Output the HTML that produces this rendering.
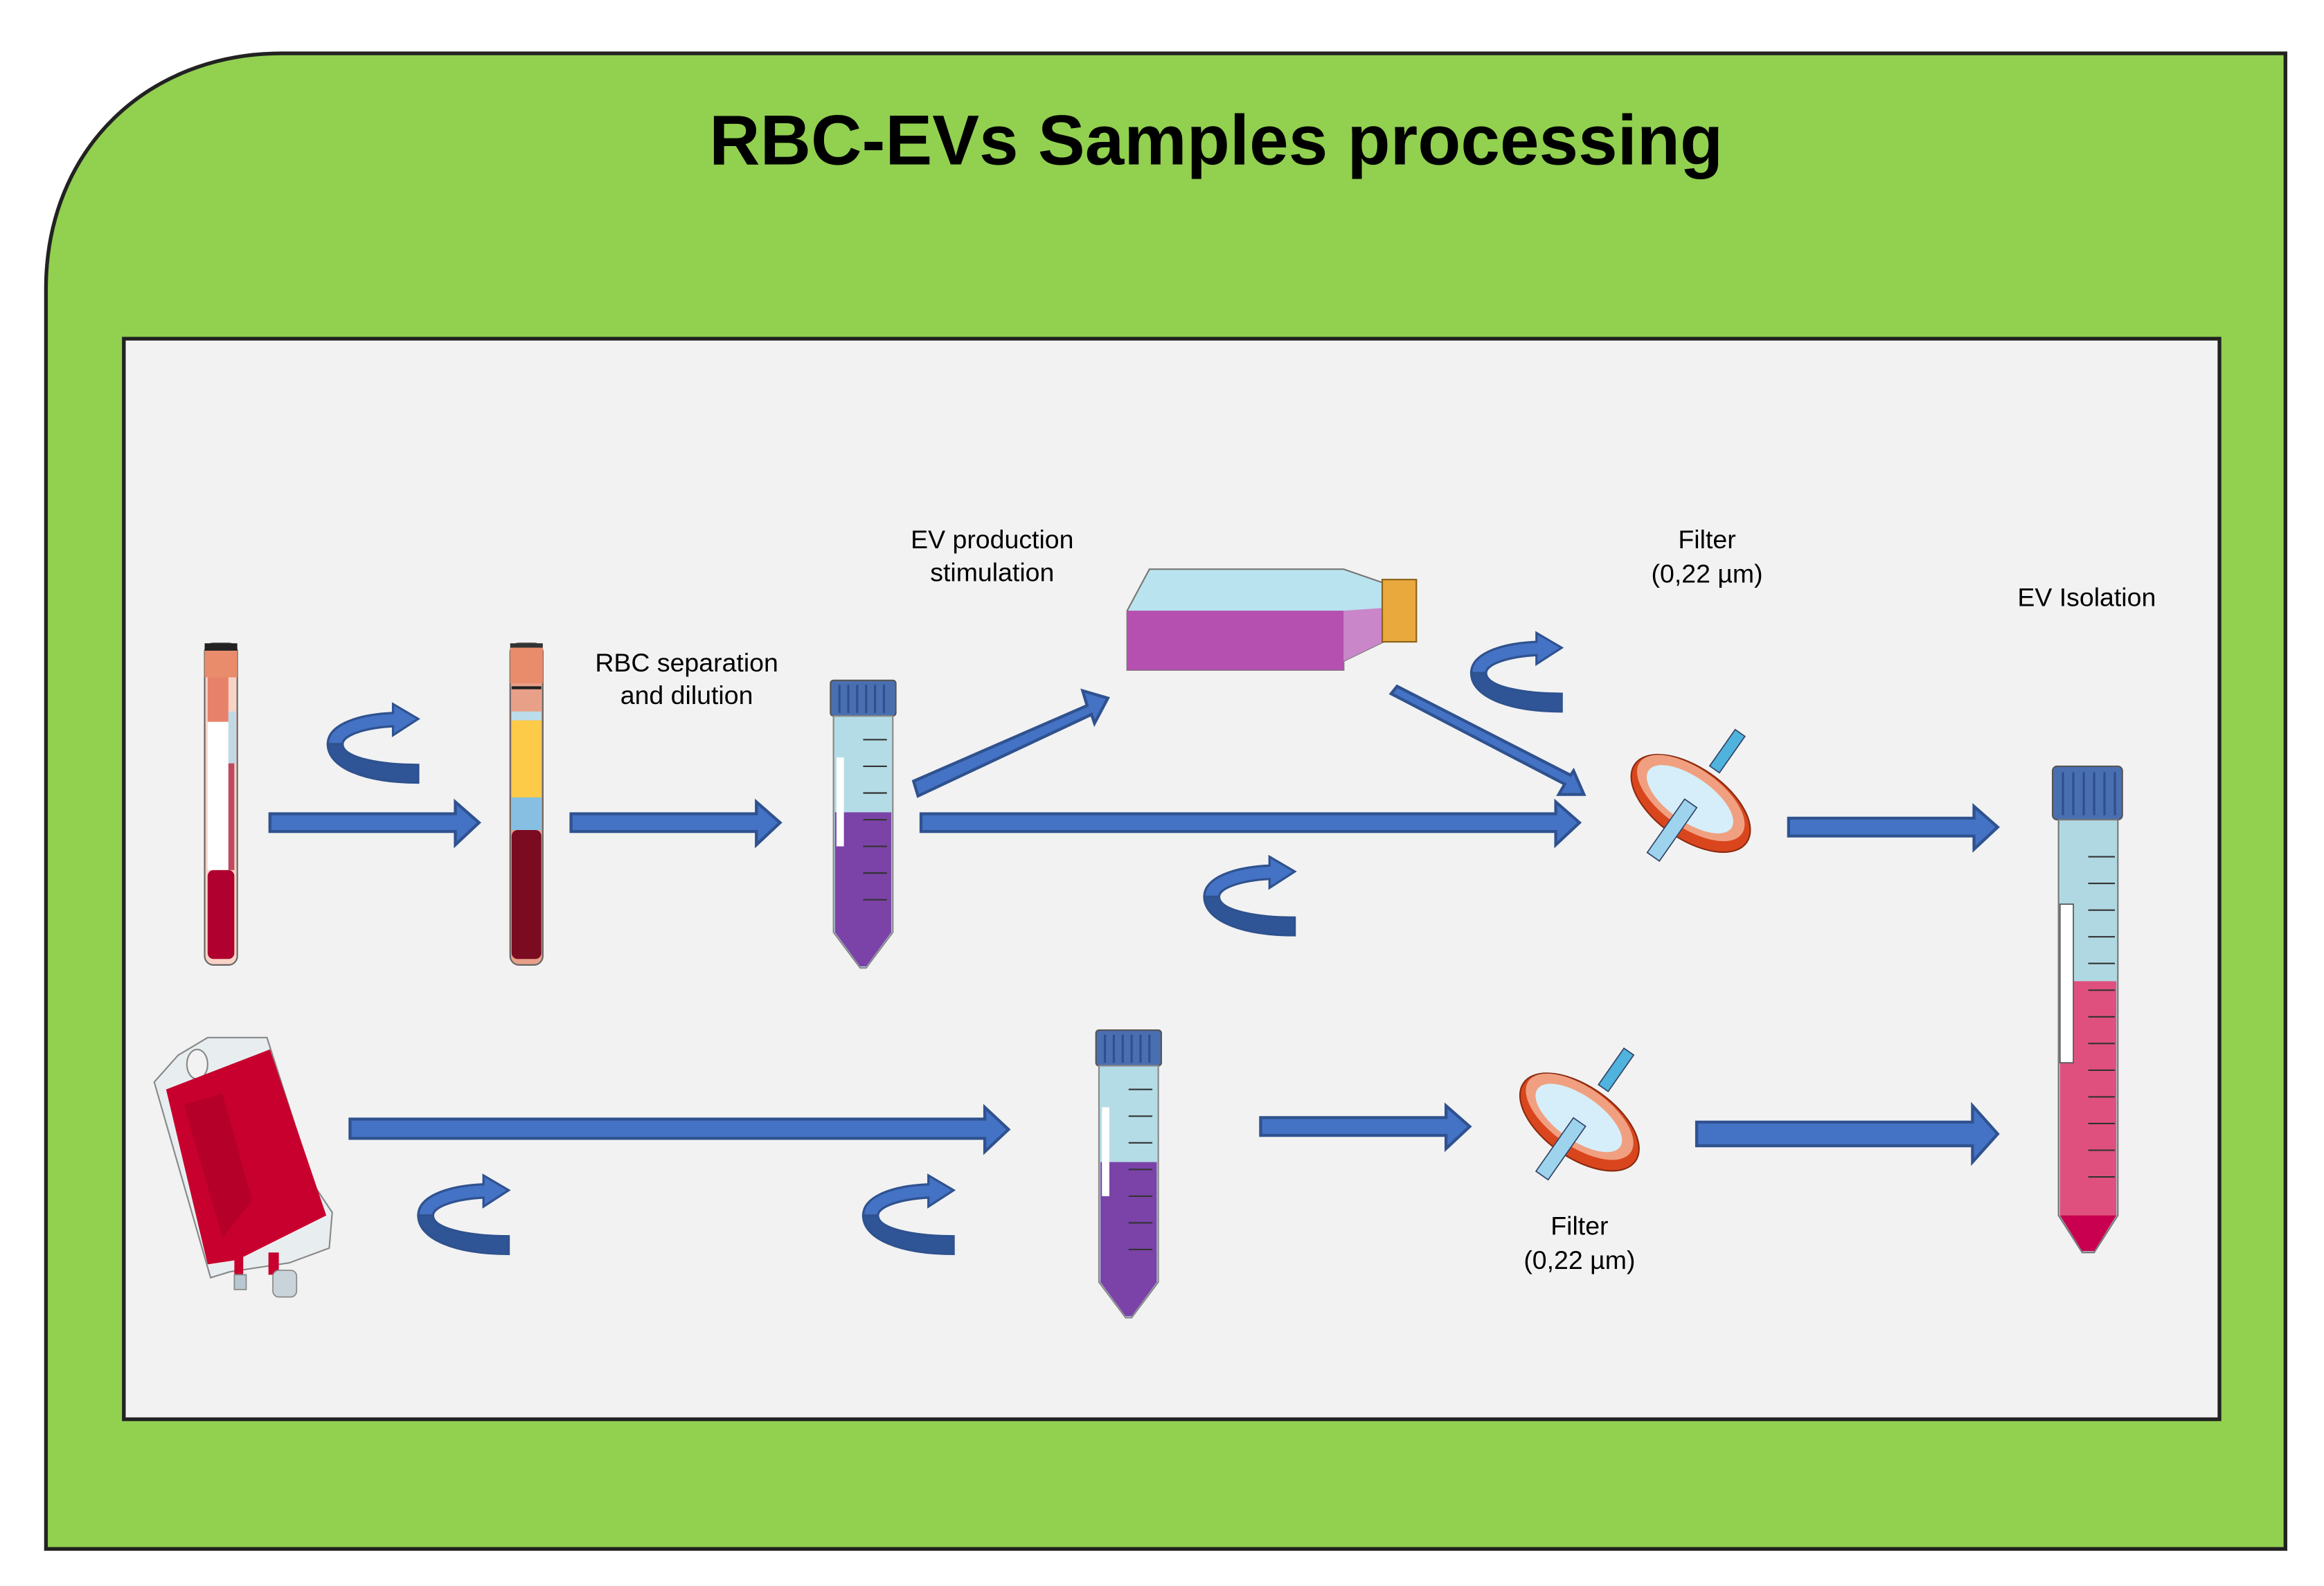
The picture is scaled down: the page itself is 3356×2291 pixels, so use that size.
<!DOCTYPE html>
<html><head><meta charset="utf-8"><style>
html,body{margin:0;padding:0;background:#fff;}
svg{display:block;}
text{font-family:"Liberation Sans",Arial,sans-serif;}
</style></head><body>
<svg width="3356" height="2291" viewBox="0 0 1567 1070" preserveAspectRatio="none" xmlns="http://www.w3.org/2000/svg">
<defs>
<g id="curl">
<path d="M61,53 L61,41 C38,41 10,37 10,27 L0,27 C0,43 25,53 61,53 Z" fill="#2F5597" stroke="#2F528F" stroke-width="1.5"/>
<path d="M0,27 C0,14 20,7 44,6 L44,0 L61,10 L44,21 L44,15 C25,16 10,21 10,27 Z" fill="#4472C4" stroke="#2F528F" stroke-width="1.5"/>
</g>
<g id="falcon">
<rect x="0" y="0" width="44" height="24" rx="2" fill="#4A6FB0" stroke="#555" stroke-width="1"/>
<g stroke="#2F4F8F" stroke-width="1.5"><line x1="6" y1="3" x2="6" y2="22"/><line x1="12" y1="3" x2="12" y2="22"/><line x1="18" y1="3" x2="18" y2="22"/><line x1="24" y1="3" x2="24" y2="22"/><line x1="30" y1="3" x2="30" y2="22"/><line x1="36" y1="3" x2="36" y2="22"/></g>
<path d="M2,24 L42,24 L42,170 L24,194 L20,194 L2,170 Z" fill="#B4DCE6" stroke="#888" stroke-width="1"/>
<path d="M3,89 L41,89 L41,170 L24,193 L20,193 L3,170 Z" fill="#7B43A8"/>
<rect x="4" y="52" width="5" height="60" fill="#fff"/>
<g stroke="#333" stroke-width="1"><line x1="22" y1="40" x2="38" y2="40"/><line x1="22" y1="58" x2="38" y2="58"/><line x1="22" y1="76" x2="38" y2="76"/><line x1="22" y1="94" x2="38" y2="94"/><line x1="22" y1="112" x2="38" y2="112"/><line x1="22" y1="130" x2="38" y2="130"/><line x1="22" y1="148" x2="38" y2="148"/></g>
</g>
<g id="filter">
<g transform="rotate(35)">
<rect x="-4" y="-58" width="8" height="30" fill="#4FB3DE" stroke="#346" stroke-width="0.8"/>
<ellipse cx="0" cy="0" rx="46" ry="24" fill="#D9461E" stroke="#8A2A10" stroke-width="1"/>
<ellipse cx="-2" cy="-3" rx="42" ry="20" fill="#F0A080"/>
<ellipse cx="-2" cy="-2" rx="34" ry="15" fill="#D6EEFA"/>
<rect x="-5" y="0" width="10" height="44" fill="#9ED3EE" stroke="#346" stroke-width="0.8"/>
</g>
</g>
</defs>

<path d="M190,36 L1541,36 L1541,1045 L31,1045 L31,195 C31,100 100,36 190,36 Z" fill="#92D050" stroke="#222" stroke-width="2.5"/>
<text x="820" y="111" font-size="47.5" font-weight="bold" text-anchor="middle" fill="#000">RBC-EVs Samples processing</text>
<rect x="83.5" y="228.5" width="1413" height="729" fill="#F2F2F2" stroke="#222" stroke-width="2.5"/>

<g fill="#4472C4" stroke="#2F528F" stroke-width="2">
<path d="M182,549 L307,549 L307,541 L323,555 L307,570 L307,561 L182,561 Z"/>
<path d="M385,549 L510,549 L510,541 L526,555 L510,570 L510,561 L385,561 Z"/>
<path d="M621,549 L1049,549 L1049,541 L1065,555 L1049,570 L1049,561 L621,561 Z"/>
<path d="M1206,552 L1331,552 L1331,544 L1347,558 L1331,573 L1331,564 L1206,564 Z"/>
<path d="M236,755 L664,755 L664,747 L680,762 L664,777 L664,768 L236,768 Z"/>
<path d="M850,754 L975,754 L975,746 L991,760 L975,775 L975,766 L850,766 Z"/>
<path d="M1144,757 L1330,757 L1330,746 L1347,765 L1330,784 L1330,773 L1144,773 Z"/>
<path d="M616,527 L733,476 L730,466 L747,471 L738,488 L736,482 L619,537 Z"/>
<path d="M940,465 L1057,526 L1053,533 L1070,533 L1063,517 L1061,520 L944,460 Z" transform="translate(-2,3)"/>
</g>
<use href="#curl" x="221" y="475"/>
<use href="#curl" x="812" y="578"/>
<use href="#curl" x="992" y="427"/>
<use href="#curl" x="282" y="793"/>
<use href="#curl" x="582" y="793"/>

<rect x="138" y="434" width="22" height="217" rx="6" fill="#F9D3C6" stroke="#666" stroke-width="1"/>
<rect x="138" y="434" width="22" height="5" fill="#222"/>
<rect x="138" y="439" width="22" height="18" fill="#E98C6C"/>
<rect x="140" y="457" width="14" height="30" fill="#E8816A"/>
<rect x="140" y="487" width="14" height="100" fill="#fff"/>
<rect x="154" y="480" width="5" height="35" fill="#BFD9E6"/>
<rect x="140" y="587" width="18" height="60" rx="4" fill="#B0002F"/>
<rect x="154" y="515" width="4" height="72" fill="#C04860"/>

<rect x="344" y="434" width="22" height="217" rx="6" fill="#E8A089" stroke="#666" stroke-width="1"/>
<rect x="344" y="434" width="22" height="3" fill="#333"/>
<rect x="344" y="437" width="22" height="24" fill="#E98C6C"/>
<rect x="345" y="463" width="20" height="2" fill="#222"/>
<rect x="345" y="480" width="20" height="6" fill="#BBDDEB"/>
<rect x="345" y="486" width="20" height="52" fill="#FDCB47"/>
<rect x="345" y="538" width="20" height="22" fill="#86BFE2"/>
<rect x="345" y="560" width="20" height="87" rx="4" fill="#7A0B20"/>

<text x="463" y="453" font-size="17.5" text-anchor="middle">RBC separation</text>
<text x="463" y="475" font-size="17.5" text-anchor="middle">and dilution</text>

<use href="#falcon" x="560" y="459"/>
<use href="#falcon" x="739" y="695"/>

<text x="669" y="370" font-size="17.5" text-anchor="middle">EV production</text>
<text x="669" y="392" font-size="17.5" text-anchor="middle">stimulation</text>

<path d="M775,384 L906,384 L935,394 L935,432 L906,446 L906,452 L760,452 L760,412 Z" fill="#B9E3EE" stroke="#777" stroke-width="1"/>
<path d="M760,412 L906,412 L906,452 L760,452 Z" fill="#B54FB0"/>
<path d="M906,412 L935,410 L935,432 L906,446 Z" fill="#C986C9"/>
<rect x="932" y="391" width="23" height="42" fill="#E9A93C" stroke="#8A6218" stroke-width="1"/>

<text x="1151" y="370" font-size="17.5" text-anchor="middle">Filter</text>
<text x="1151" y="393" font-size="17.5" text-anchor="middle">(0,22 µm)</text>
<text x="1407" y="409" font-size="17.5" text-anchor="middle">EV Isolation</text>

<use href="#filter" x="1140" y="542"/>
<use href="#filter" x="1065" y="757"/>
<text x="1065" y="833" font-size="17.5" text-anchor="middle">Filter</text>
<text x="1065" y="856" font-size="17.5" text-anchor="middle">(0,22 µm)</text>

<rect x="1384" y="517" width="47" height="36" rx="3" fill="#4A6FB0" stroke="#555" stroke-width="1"/>
<g stroke="#2F4F8F" stroke-width="1.5"><line x1="1391" y1="521" x2="1391" y2="550"/><line x1="1398" y1="521" x2="1398" y2="550"/><line x1="1405" y1="521" x2="1405" y2="550"/><line x1="1412" y1="521" x2="1412" y2="550"/><line x1="1419" y1="521" x2="1419" y2="550"/><line x1="1426" y1="521" x2="1426" y2="550"/></g>
<path d="M1388,553 L1428,553 L1428,820 L1412,845 L1404,845 L1388,820 Z" fill="#B0D8E2" stroke="#777" stroke-width="1"/>
<path d="M1389,662 L1427,662 L1427,820 L1412,844 L1404,844 L1389,820 Z" fill="#E0507E"/>
<path d="M1389,820 L1427,820 L1412,844 L1404,844 Z" fill="#C8004F"/>
<rect x="1389" y="610" width="9" height="107" fill="#fff" stroke="#555" stroke-width="0.8"/>
<g stroke="#333" stroke-width="1"><line x1="1408" y1="578" x2="1426" y2="578"/><line x1="1408" y1="596" x2="1426" y2="596"/><line x1="1408" y1="614" x2="1426" y2="614"/><line x1="1408" y1="632" x2="1426" y2="632"/><line x1="1408" y1="650" x2="1426" y2="650"/><line x1="1408" y1="668" x2="1426" y2="668"/><line x1="1408" y1="686" x2="1426" y2="686"/><line x1="1408" y1="704" x2="1426" y2="704"/><line x1="1408" y1="722" x2="1426" y2="722"/><line x1="1408" y1="740" x2="1426" y2="740"/><line x1="1408" y1="758" x2="1426" y2="758"/><line x1="1408" y1="776" x2="1426" y2="776"/><line x1="1408" y1="794" x2="1426" y2="794"/></g>

<path d="M120,712 L140,700 L180,700 L212,800 L224,818 L222,842 L195,852 L155,858 L142,862 L104,730 Z" fill="#E8EEF0" stroke="#888" stroke-width="1"/>
<ellipse cx="133" cy="718" rx="7" ry="10" fill="#F2F2F2" stroke="#888"/>
<path d="M112,735 L182,708 L220,820 L160,850 L140,853 Z" fill="#C8002E"/>
<path d="M124,745 L150,738 L170,810 L150,835 Z" fill="#A80026" opacity="0.6"/>
<rect x="158" y="845" width="6" height="18" fill="#C8002E"/>
<rect x="181" y="845" width="7" height="15" fill="#C8002E"/>
<rect x="158" y="860" width="8" height="10" fill="#B8C8D0" stroke="#888" stroke-width="0.8"/>
<rect x="184" y="857" width="16" height="18" rx="4" fill="#C8D4DA" stroke="#888" stroke-width="0.8"/>
</svg>
</body></html>
